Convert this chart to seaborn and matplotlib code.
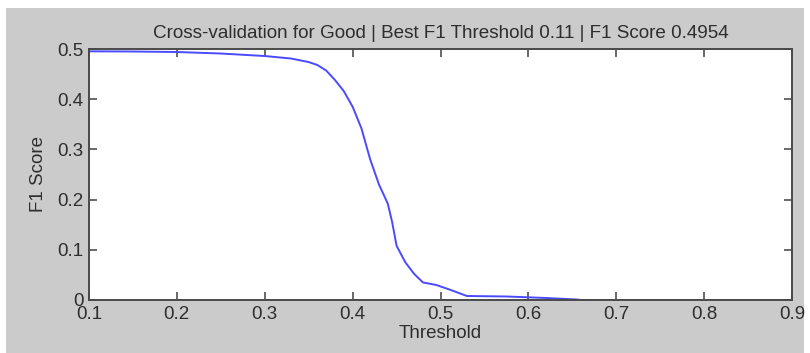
import seaborn as sns
import pandas as pd
import matplotlib.pyplot as plt
from matplotlib.patches import Rectangle

# F1 score vs threshold
thresholds = [0.10, 0.15, 0.20, 0.25, 0.30, 0.33, 0.35, 0.36, 0.37, 0.38,
              0.39, 0.40, 0.41, 0.42, 0.43, 0.44, 0.445, 0.45, 0.46, 0.47,
              0.48, 0.495, 0.51, 0.53, 0.575, 0.62, 0.655, 0.66, 0.90]
f1_scores = [0.4954, 0.4950, 0.4940, 0.4910, 0.4860, 0.4810, 0.4740, 0.4680,
             0.4570, 0.4380, 0.4160, 0.3850, 0.3420, 0.2800, 0.2300, 0.1920,
             0.1550, 0.1080, 0.0750, 0.0520, 0.0350, 0.0300, 0.0210, 0.0080,
             0.0070, 0.0040, 0.0010, 0.0000, 0.0000]

x_ticks = [0.1, 0.2, 0.3, 0.4, 0.5, 0.6, 0.7, 0.8, 0.9]
x_labels = ["0.1", "0.2", "0.3", "0.4", "0.5", "0.6", "0.7", "0.8", "0.9"]
y_ticks = [0, 0.1, 0.2, 0.3, 0.4, 0.5]
y_labels = ["0", "0.1", "0.2", "0.3", "0.4", "0.5"]

title = "Cross-validation for Good | Best F1 Threshold 0.11 | F1 Score 0.4954"

sns.set_theme(style="ticks")
plt.rcParams['font.family'] = ['Liberation Sans', 'DejaVu Sans']

fig = plt.figure(figsize=(8.1, 3.53), dpi=100)
fig.patch.set_facecolor("white")
# matlab-like grey figure panel, with a thin white margin on the top and left
fig.patches.append(Rectangle((6 / 810, 0), 798 / 810, 345 / 353, transform=fig.transFigure,
                             facecolor="#cbcbcb", edgecolor="none", zorder=-10))

ax = fig.add_axes([89 / 810, 53 / 353, 703 / 810, 251 / 353])
ax.set_zorder(5)
ax.set_facecolor("white")

df = pd.DataFrame({"Threshold": thresholds, "F1 Score": f1_scores})
sns.lineplot(ax=ax, data=df, x="Threshold", y="F1 Score", color="#4a4aff",
             linewidth=1.4, estimator=None, sort=True)

ax.set_xlim(0.1, 0.9)
ax.set_ylim(0, 0.5)
ax.set_xticks(x_ticks)
ax.set_xticklabels(x_labels)
ax.set_yticks(y_ticks)
ax.set_yticklabels(y_labels)

ax.tick_params(direction="in", length=6, width=1.2, colors="#505050",
               labelcolor="#2e2e2e", labelsize=13.5, top=True, right=True, pad=4)
for s in ax.spines.values():
    s.set_color("#4a4a4a")
    s.set_linewidth(1.4)

ax.set_xlabel("Threshold", fontsize=13.5, color="#2e2e2e", labelpad=2)
ax.set_ylabel("F1 Score", fontsize=13.5, color="#2e2e2e", labelpad=7)
ax.set_title(title, fontsize=13.6, color="#2e2e2e", pad=8)

fig.savefig("out.png", dpi=100, facecolor=fig.get_facecolor())
